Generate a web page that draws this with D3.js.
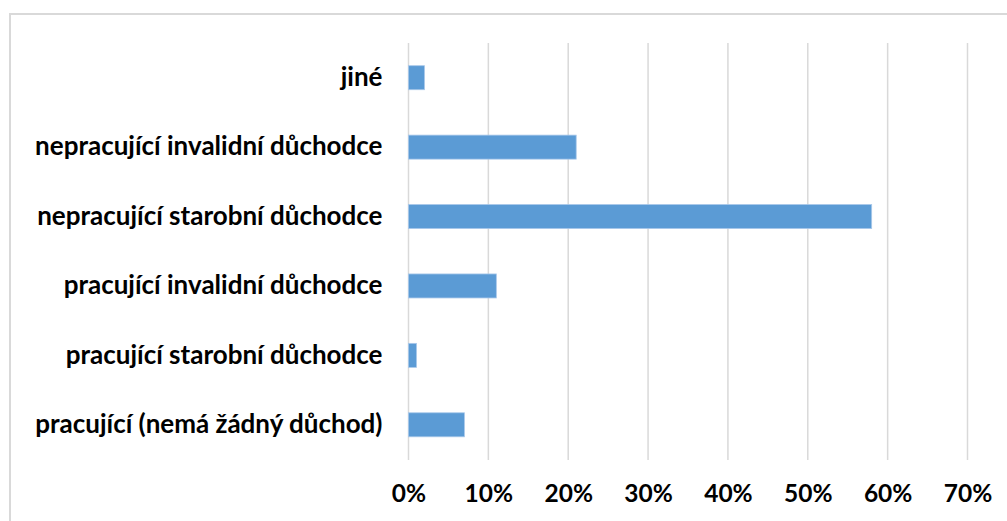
<!DOCTYPE html>
<html><head><meta charset="utf-8">
<script src="https://cdn.jsdelivr.net/npm/d3@7"></script>
<style>body{margin:0;background:#fff}svg{display:block}</style>
</head><body><svg id="c" width="1007" height="521"></svg>
<script>
const categories = ["jiné","nepracující invalidní důchodce","nepracující starobní důchodce","pracující invalidní důchodce","pracující starobní důchodce","pracující (nemá žádný důchod)"];
const values = [0.02,0.21,0.58,0.11,0.01,0.07];
const ticks = [0,0.1,0.2,0.3,0.4,0.5,0.6,0.7];

const svg = d3.select("#c");
const font = "Lato, 'Open Sans', sans-serif";
svg.append("path").attr("d","M10,521 V14 H1007").attr("fill","none").attr("stroke","#d9d9d9").attr("stroke-width",2);

const x = d3.scaleLinear().domain([0,0.7]).range([408.5,967.5]);
const y = d3.scaleBand().domain(categories).range([43,459.5]).paddingInner(0.654).paddingOuter(0.327);

svg.append("g").selectAll("line").data(ticks).join("line")
  .attr("x1",d=>x(d)).attr("x2",d=>x(d)).attr("y1",43).attr("y2",460)
  .attr("stroke","#d9d9d9").attr("stroke-width",1.5);

svg.append("g").selectAll("rect").data(values).join("rect")
  .attr("x",x(0)).attr("y",(d,i)=>y(categories[i]))
  .attr("width",d=>x(d)-x(0)).attr("height",y.bandwidth())
  .attr("fill","#5b9bd5").attr("stroke","#a9c8ea").attr("stroke-width",0.8);

const ax = d3.axisBottom(x).tickValues(ticks).tickFormat(d3.format(".0%")).tickSize(0).tickPadding(0);
const gx = svg.append("g").attr("transform","translate(0,502)").call(ax);
gx.select(".domain").remove();
gx.selectAll("text").attr("font-family",font).attr("font-weight","bold").attr("font-size",24.5).attr("fill","#000").attr("dy",0);

const ay = d3.axisLeft(y).tickSize(0).tickPadding(26);
const gy = svg.append("g").attr("transform",`translate(${x(0)},0)`).call(ay);
gy.select(".domain").remove();
gy.selectAll("text").attr("font-family",font).attr("font-weight","bold").attr("font-size",26).attr("fill","#000");
</script></body></html>
